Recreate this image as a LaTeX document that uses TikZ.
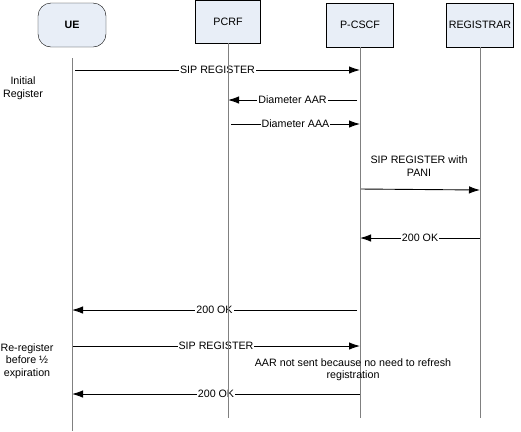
\documentclass[tikz,border=0pt]{standalone}
\usepackage{fontspec}
\setmainfont{Liberation Sans}
\usetikzlibrary{arrows.meta}

\definecolor{boxfill}{HTML}{E8EEF7}
\definecolor{lifegray}{HTML}{808080}

\tikzset{
  entity/.style={draw=black, fill=boxfill, minimum width=67bp, minimum height=44bp, inner sep=0pt},
  lifeline/.style={draw=lifegray, line width=0.9bp},
  msg/.style={draw=black, line width=0.9bp, -{Latex[length=11bp,width=7.5bp]}},
  msglabel/.style={fill=white, inner sep=1bp},
  note/.style={align=center, inner sep=0pt}
}

\begin{document}
\begin{tikzpicture}[x=1bp, y=-1bp, font=\fontsize{10.7bp}{12.5bp}\selectfont]
    \useasboundingbox (0,0) rectangle (521,431);
    %
    \node[entity, rounded corners=13bp, minimum width=68bp] (ue) at (72,25) {\textbf{UE}};
    \node[entity, minimum width=65bp, minimum height=43bp] (pcrf) at (228,21.5) {PCRF};
    \node[entity] (pcscf) at (360,25) {P-CSCF};
    \node[entity] (reg) at (480,25) {REGISTRAR};
    %
    \coordinate (uetop) at (72,58);
    \coordinate (uebot) at (72,431);
    \coordinate (pcrfbot) at (228,418);
    \coordinate (pcscfbot) at (360,418);
    \coordinate (regbot) at (480,418);
    %
    % messages
    \coordinate (m1a) at (75,70);   \coordinate (m1b) at (360,70);
    \coordinate (m2a) at (357,100); \coordinate (m2b) at (228,100);
    \coordinate (m3a) at (231,124); \coordinate (m3b) at (360,124);
    \coordinate (m4a) at (360,189); \coordinate (m4b) at (480,190);
    \coordinate (m5a) at (480,238); \coordinate (m5b) at (360,238);
    \coordinate (m6a) at (357,310); \coordinate (m6b) at (72,310);
    \coordinate (m7a) at (72,346);  \coordinate (m7b) at (360,346);
    \coordinate (m8a) at (360,394); \coordinate (m8b) at (72,394);
    %
    \draw[msg] (m1a) -- node[msglabel] {SIP REGISTER} (m1b);
    \draw[msg] (m2a) -- node[msglabel] {Diameter AAR} (m2b);
    \draw[msg] (m3a) -- node[msglabel] {Diameter AAA} (m3b);
    \draw[msg] (m4a) -- (m4b);
    \draw[msg] (m5a) -- node[msglabel] {200 OK} (m5b);
    \draw[msg] (m6a) -- node[msglabel] {200 OK} (m6b);
    \draw[msg] (m7a) -- node[msglabel] {SIP REGISTER} (m7b);
    \draw[msg] (m8a) -- node[msglabel] {200 OK} (m8b);
    %
    \draw[lifeline] (uetop) -- (uebot);
    \draw[lifeline] (pcrf.south) -- (pcrfbot);
    \draw[lifeline] (pcscf.south) -- (pcscfbot);
    \draw[lifeline] (reg.south) -- (regbot);
    %
    \node[note] (pani) at (419,166) {SIP REGISTER with\\PANI};
    \node[note] (noaar) at (353,369.5) {AAR not sent because no need to refresh\\registration};
    \node[note] (initial) at (23,88) {Initial\\Register};
    \node[note] (rereg) at (27,361) {Re-register\\before ½\\expiration};
\end{tikzpicture}
\end{document}
